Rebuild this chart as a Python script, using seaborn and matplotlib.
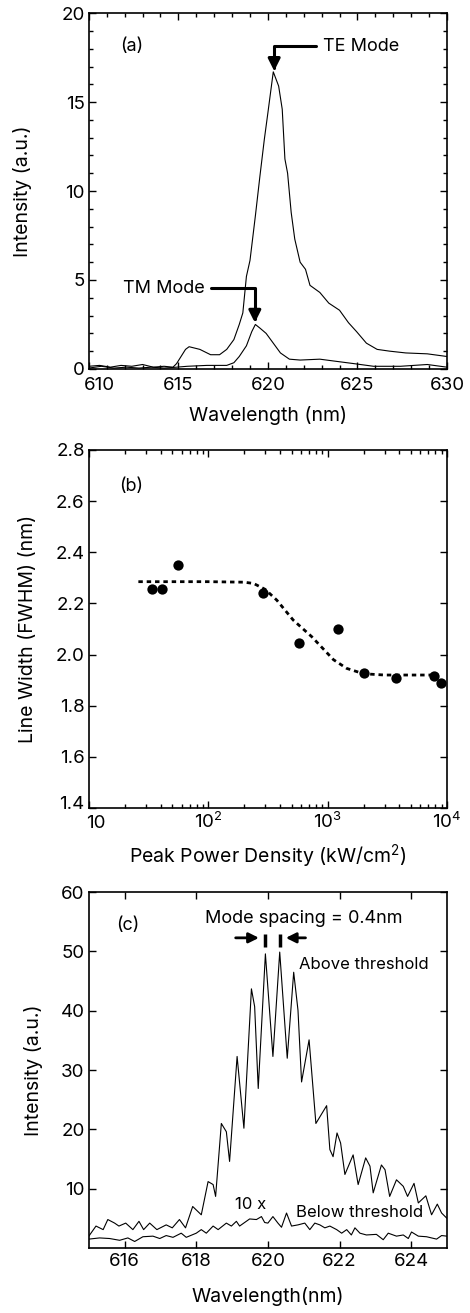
import numpy as np
import pandas as pd
import matplotlib
matplotlib.use("Agg")
import matplotlib.pyplot as plt
import matplotlib.ticker as mticker
from matplotlib.transforms import ScaledTranslation
import seaborn as sns

# (a) polarised spectra
te_wl = [610.0, 610.6, 611.2, 611.8, 612.4, 613.0, 613.6, 614.2, 614.7, 614.9, 615.4, 615.6,
         616.2, 616.8, 617.3, 617.7, 618.1, 618.4, 618.6, 618.8, 619.0, 619.3, 619.55, 619.8,
         620.0, 620.3, 620.6, 620.8, 620.95, 621.1, 621.3, 621.5, 621.8, 622.1, 622.35, 622.9,
         623.4, 624.0, 624.5, 624.95, 625.5, 626.1, 626.8, 627.7, 628.9, 630.0]
te_int = [0.15, 0.2, 0.1, 0.2, 0.15, 0.25, 0.1, 0.15, 0.1, 0.3, 1.1, 1.25,
          1.1, 0.8, 0.8, 1.1, 1.65, 2.5, 3.15, 5.2, 6.1, 8.6, 10.8, 12.9,
          14.4, 16.7, 15.9, 14.6, 11.8, 11.0, 8.8, 7.3, 6.0, 5.6, 4.7, 4.3,
          3.7, 3.3, 2.6, 2.1, 1.45, 1.1, 1.0, 0.9, 0.85, 0.7]
tm_wl = [610.0, 610.7, 611.4, 612.1, 612.8, 613.5, 614.2, 614.9, 615.5, 616.6, 617.7, 618.1,
         618.4, 618.8, 619.1, 619.3, 619.55, 619.9, 620.3, 620.7, 621.2, 621.8, 622.9, 623.65,
         624.8, 625.9, 627.4, 628.9, 630.0]
tm_int = [0.05, 0.15, 0.05, 0.1, 0.05, 0.1, 0.05, 0.1, 0.15, 0.2, 0.2, 0.35,
          0.7, 1.3, 2.1, 2.5, 2.3, 2.0, 1.45, 0.9, 0.55, 0.5, 0.55, 0.45,
          0.3, 0.15, 0.15, 0.25, 0.1]
a_xticks = [610, 615, 620, 625, 630]
a_yticks = [0, 5, 10, 15, 20]

# (b) line width vs peak power density
power = [33.5, 41.4, 56, 287, 572, 1214, 2018, 3722, 7839, 8870]
fwhm = [2.256, 2.256, 2.35, 2.242, 2.046, 2.10, 1.927, 1.907, 1.917, 1.888]
fit_power = [26, 100, 200, 240, 300, 375, 515, 736, 1120, 1445, 2000, 3000, 8500]
fit_fwhm = [2.285, 2.285, 2.283, 2.278, 2.255, 2.213, 2.135, 2.07, 1.98, 1.946, 1.925, 1.92, 1.92]
b_xticks = [10, 100, 1000, 10000]
b_xticklabels = ["10", "$10^2$", "$10^3$", "$10^4$"]
b_yticks = [1.4, 1.6, 1.8, 2.0, 2.2, 2.4, 2.6, 2.8]

# (c) spectra above / below threshold
above_wl = [615.0, 615.2, 615.4, 615.53, 615.72, 615.84, 616.03, 616.23, 616.4, 616.53, 616.7,
            616.9, 617.16, 617.33, 617.53, 617.7, 617.9, 618.14, 618.33, 618.47, 618.54, 618.7,
            618.84, 618.93, 619.14, 619.33, 619.54, 619.63, 619.73, 619.93, 620.14, 620.33,
            620.54, 620.72, 620.84, 620.94, 621.15, 621.34, 621.64, 621.73, 621.82, 621.93,
            622.03, 622.15, 622.38, 622.52, 622.73, 622.85, 622.94, 623.17, 623.27, 623.4,
            623.59, 623.78, 623.9, 624.08, 624.2, 624.41, 624.57, 624.73, 624.85, 625.0]
above_int = [2.0, 3.7, 3.1, 4.8, 4.2, 3.7, 4.2, 3.1, 4.5, 3.1, 4.2,
             3.1, 3.9, 3.4, 4.8, 3.4, 7.0, 5.6, 11.2, 10.7, 8.7, 21.0,
             19.6, 14.6, 32.3, 20.2, 43.7, 40.7, 26.9, 49.6, 32.3, 49.9,
             32.0, 46.5, 40.1, 28.0, 35.1, 21.0, 24.0, 16.6, 15.4, 19.4,
             17.7, 12.4, 15.7, 10.7, 15.2, 13.8, 9.3, 14.0, 13.2, 8.7,
             11.5, 10.4, 8.7, 10.9, 7.6, 8.8, 5.6, 7.4, 5.9, 5.0]
below_wl = [615.0, 615.3, 615.58, 615.86, 616.09, 616.28, 616.51, 616.79, 616.98, 617.16, 617.35,
            617.58, 617.72, 618.0, 618.14, 618.28, 618.47, 618.61, 618.84, 618.98, 619.12,
            619.21, 619.49, 619.68, 619.82, 619.91, 620.0, 620.14, 620.28, 620.38, 620.52,
            620.66, 620.84, 621.03, 621.17, 621.31, 621.45, 621.59, 621.73, 621.92, 622.06,
            622.2, 622.33, 622.43, 622.57, 622.75, 623.03, 623.22, 623.36, 623.59, 623.78,
            623.92, 624.01, 624.2, 624.43, 624.71, 624.85, 625.0]
below_int = [1.5, 1.7, 1.6, 1.3, 1.7, 1.1, 1.9, 2.0, 1.6, 2.1, 1.8,
             2.5, 1.8, 2.5, 3.1, 2.5, 3.7, 3.1, 4.2, 3.7, 4.5,
             3.7, 4.9, 4.8, 5.3, 4.3, 4.2, 5.3, 4.2, 3.5, 5.9,
             3.7, 3.9, 4.2, 3.1, 4.2, 3.9, 3.4, 3.7, 3.1, 2.5,
             3.1, 2.2, 3.4, 2.5, 2.2, 2.3, 1.4, 2.5, 2.0, 2.2,
             1.6, 2.7, 2.0, 1.9, 1.5, 2.1, 2.0]
c_xticks = [616, 618, 620, 622, 624]
c_yticks = [10, 20, 30, 40, 50, 60]

sns.set_theme(style="ticks")
plt.rcParams["font.family"] = ["Inter", "DejaVu Sans"]
plt.rcParams["mathtext.fontset"] = "custom"
plt.rcParams["mathtext.rm"] = "Inter"
plt.rcParams["mathtext.it"] = "Inter:italic"
plt.rcParams["text.color"] = "black"
plt.rcParams["axes.labelcolor"] = "black"

TICK_FS = 13.5
LABEL_FS = 14
ANN_FS = 13
fig = plt.figure(figsize=(4.70, 13.13), dpi=100)
ax_a = fig.add_axes([0.189, 0.719, 0.762, 0.271])
ax_b = fig.add_axes([0.189, 0.3846, 0.762, 0.2727])
ax_c = fig.add_axes([0.189, 0.0495, 0.762, 0.271])


def style_axes(ax, xpad):
    for s in ax.spines.values():
        s.set_linewidth(1.2)
        s.set_color("black")
    ax.tick_params(which="both", direction="in", top=True, right=True,
                   colors="black", labelsize=TICK_FS, width=1.0)
    ax.tick_params(which="major", length=5)
    ax.tick_params(which="minor", length=3)
    ax.tick_params(axis="x", pad=xpad)
    ax.tick_params(axis="y", pad=3)


def nudge(label, dx_px, dy_px):
    label.set_transform(label.get_transform() +
                        ScaledTranslation(dx_px / 100, dy_px / 100, fig.dpi_scale_trans))


line_kw = dict(color="black", linewidth=0.8, estimator=None, sort=False, legend=False)

# ---- (a)
df_te = pd.DataFrame({"wl": te_wl, "I": te_int})
df_tm = pd.DataFrame({"wl": tm_wl, "I": tm_int})
sns.lineplot(data=df_te, x="wl", y="I", ax=ax_a, **line_kw)
sns.lineplot(data=df_tm, x="wl", y="I", ax=ax_a, **line_kw)
ax_a.set_xlim(610, 630)
ax_a.set_ylim(0, 20)
ax_a.set_xticks(a_xticks)
ax_a.set_yticks(a_yticks)
ax_a.xaxis.set_minor_locator(mticker.MultipleLocator(1))
ax_a.yaxis.set_minor_locator(mticker.MultipleLocator(1))
style_axes(ax_a, 6)
nudge(ax_a.get_xticklabels()[0], 11, 0)
ax_a.set_xlabel("Wavelength (nm)", fontsize=LABEL_FS)
ax_a.set_ylabel("Intensity (a.u.)", fontsize=LABEL_FS)
ax_a.text(612.4, 18.1, "(a)", fontsize=ANN_FS, ha="center", va="center")
arrow_kw = dict(arrowstyle="-|>", color="black", lw=2.2, mutation_scale=18,
                connectionstyle="angle,angleA=0,angleB=90,rad=0", shrinkB=0)
ax_a.annotate("TE Mode", xy=(620.35, 16.75), xytext=(623.05, 18.15),
              fontsize=ANN_FS, ha="left", va="center", arrowprops=arrow_kw)
ax_a.annotate("TM Mode", xy=(619.27, 2.6), xytext=(616.5, 4.55),
              fontsize=ANN_FS, ha="right", va="center", arrowprops=arrow_kw)

# ---- (b)
df_pts = pd.DataFrame({"P": power, "W": fwhm})
df_fit = pd.DataFrame({"P": fit_power, "W": fit_fwhm})
sns.lineplot(data=df_fit, x="P", y="W", ax=ax_b, color="black", linewidth=2.0,
             linestyle=(0, (1.6, 1.4)), estimator=None, sort=False, legend=False)
sns.scatterplot(data=df_pts, x="P", y="W", ax=ax_b, color="black", s=55,
                edgecolor="black", linewidth=0, zorder=3, legend=False)
ax_b.set_xscale("log")
ax_b.set_xlim(10, 1e4)
ax_b.set_ylim(1.4, 2.8)
ax_b.set_xticks(b_xticks)
ax_b.set_xticklabels(b_xticklabels)
ax_b.xaxis.set_minor_locator(mticker.LogLocator(base=10, subs=np.arange(2, 10)))
ax_b.xaxis.set_minor_formatter(mticker.NullFormatter())
ax_b.set_yticks(b_yticks)
ax_b.yaxis.set_major_formatter(mticker.FormatStrFormatter("%.1f"))
style_axes(ax_b, 14.5)
for lbl in ax_b.get_xticklabels():
    lbl.set_verticalalignment("baseline")
nudge(ax_b.get_xticklabels()[0], 7, 0)
nudge(ax_b.get_yticklabels()[0], 0, 6)
ax_b.set_xlabel("Peak Power Density (kW/cm$^{2}$)", fontsize=LABEL_FS)
ax_b.set_ylabel("Line Width (FWHM) (nm)", fontsize=LABEL_FS)
ax_b.text(22.8, 2.656, "(b)", fontsize=ANN_FS, ha="center", va="center")

# ---- (c)
df_above = pd.DataFrame({"wl": above_wl, "I": above_int})
df_below = pd.DataFrame({"wl": below_wl, "I": below_int})
sns.lineplot(data=df_above, x="wl", y="I", ax=ax_c, **line_kw)
sns.lineplot(data=df_below, x="wl", y="I", ax=ax_c, **line_kw)
ax_c.set_xlim(615, 625)
ax_c.set_ylim(0, 60)
ax_c.set_xticks(c_xticks)
ax_c.set_yticks(c_yticks)
style_axes(ax_c, 3.5)
ax_c.set_xlabel("Wavelength(nm)", fontsize=LABEL_FS)
ax_c.set_ylabel("Intensity (a.u.)", fontsize=LABEL_FS)
ax_c.text(616.1, 54.4, "(c)", fontsize=ANN_FS, ha="center", va="center")
ax_c.text(621.0, 55.5, "Mode spacing = 0.4nm", fontsize=ANN_FS, ha="center", va="center")
small_arrow = dict(arrowstyle="-|>", color="black", lw=2, mutation_scale=15,
                   shrinkA=0, shrinkB=0)
ax_c.annotate("", xy=(619.75, 52.3), xytext=(619.1, 52.3), arrowprops=small_arrow)
ax_c.annotate("", xy=(620.5, 52.3), xytext=(621.05, 52.3), arrowprops=small_arrow)
for xb in (619.91, 620.33):
    ax_c.plot([xb, xb], [50.8, 53.0], color="black", lw=2.5, solid_capstyle="butt")
ax_c.text(620.86, 47.8, "Above threshold", fontsize=12, ha="left", va="center")
ax_c.text(619.07, 7.3, "10 x", fontsize=12, ha="left", va="center")
ax_c.text(620.78, 6.0, "Below threshold", fontsize=12, ha="left", va="center")

# label placement (y label anchor = right edge of rotated text)
ax_a.yaxis.set_label_coords(-0.159, 0.5)
ax_b.yaxis.set_label_coords(-0.145, 0.5)
ax_c.yaxis.set_label_coords(-0.128, 0.5)
ax_a.xaxis.set_label_coords(0.5, -0.105)
ax_b.xaxis.set_label_coords(0.5, -0.095)
ax_c.xaxis.set_label_coords(0.5, -0.11)

fig.savefig("out.png", dpi=100, facecolor="white")
